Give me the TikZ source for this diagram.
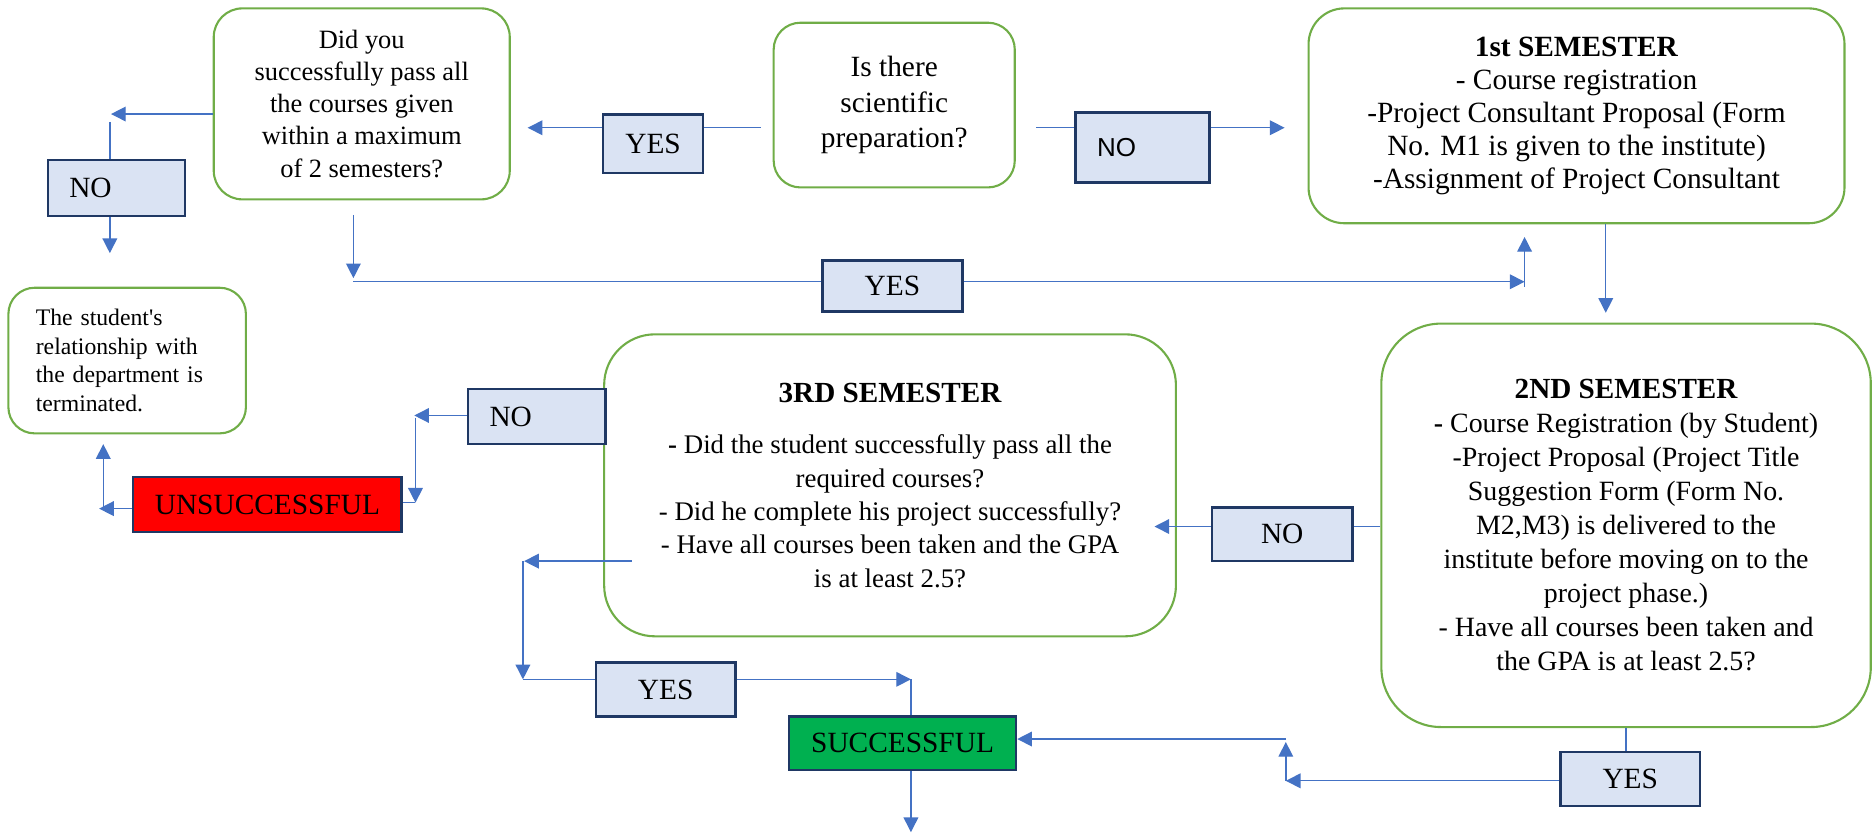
\documentclass[tikz,border=0pt]{standalone}
\usepackage{fontspec}
\setmainfont{Liberation Serif}
\newfontfamily\arialfont{Liberation Sans}
\usepackage{xcolor}
\usetikzlibrary{arrows.meta}
\definecolor{boxgreen}{HTML}{70AD47}
\definecolor{navyline}{HTML}{1F3864}
\definecolor{paleblue}{HTML}{DAE3F3}
\definecolor{wireblue}{HTML}{4472C4}
\definecolor{okgreen}{HTML}{00B050}

\begin{document}
\begin{tikzpicture}[x=0.02cm, y=-0.02cm,
  stepbox/.style={draw=boxgreen, line width=1pt, align=center, inner sep=0pt},
  tagbox/.style={draw=navyline, fill=paleblue, line width=1.2pt, inner sep=0pt, font=\fontsize{14}{16}\selectfont},
  wire/.style={draw=wireblue, line width=0.65pt},
  arr/.style={wire, -{Triangle[length=7pt,width=7pt]}}]
  \useasboundingbox (0,0) rectangle (1568,698);

  % questions and semesters
  \node[stepbox, minimum width=4.04cm, minimum height=2.76cm, rounded corners=0.45cm,
        font=\fontsize{14}{17}\selectfont] (prep) at (749,88) {Is there\\scientific\\preparation?};
  \node[stepbox, minimum width=4.96cm, minimum height=3.2cm, rounded corners=0.48cm,
        font=\fontsize{12.6}{15.3}\selectfont] (pass) at (303,87)
    {Did you\\successfully pass all\\the courses given\\within a maximum\\of 2 semesters?};
  \node[stepbox, minimum width=8.98cm, minimum height=3.6cm, rounded corners=0.6cm,
        font=\fontsize{14}{15.7}\selectfont] (sem1) at (1320.5,97)
    {\textbf{1st SEMESTER}\\- Course registration\\-Project Consultant Proposal (Form\\No. M1 is given to the institute)\\-Assignment of Project Consultant};
  \node[stepbox, align=left, text width=3.06cm, inner xsep=0.46cm, minimum height=2.44cm, rounded corners=0.44cm,
        font=\fontsize{11.3}{13.6}\selectfont] (quit) at (106.5,302)
    {The student\textquotesingle s\\relationship with\\the department is\\terminated.};
  \node[stepbox, minimum width=9.58cm, minimum height=5.06cm, rounded corners=0.85cm,
        font=\fontsize{12.8}{15.9}\selectfont] (sem3) at (745.5,406.5)
    {{\fontsize{13.9}{15.9}\selectfont\bfseries 3RD SEMESTER}\\[8.5pt]
     \textbf{-} Did the student successfully pass all the\\required courses?\\- Did he complete his project successfully?\\- Have all courses been taken and the GPA\\is at least 2.5?};
  \node[stepbox, minimum width=8.2cm, minimum height=6.76cm, rounded corners=1cm,
        font=\fontsize{13.3}{16.2}\selectfont] (sem2) at (1362,440)
    {{\fontsize{13.9}{16.2}\selectfont\bfseries 2ND SEMESTER}\\\textbf{-} Course Registration (by Student)\\-Project Proposal (Project Title\\Suggestion Form (Form No.\\M2,M3) is delivered to the\\institute before moving on to the\\project phase.)\\- Have all courses been taken and\\the GPA is at least 2.5?};

  % answer tags
  \node[tagbox, minimum width=1.68cm, minimum height=0.98cm] (yesA) at (547,120.5) {YES};
  \node[tagbox, font=\arialfont\fontsize{12.4}{14}\selectfont, align=left, text width=1.52cm, inner xsep=0.36cm,
        minimum height=1.18cm] (noA) at (957,123.5) {NO};
  \node[tagbox, align=left, text width=1.58cm, inner xsep=0.36cm, minimum height=0.94cm] (noB) at (97.5,157.5) {NO};
  \node[tagbox, minimum width=2.34cm, minimum height=0.86cm] (yesB) at (747.5,239.5) {YES};
  \node[tagbox, align=left, text width=1.58cm, inner xsep=0.36cm, minimum height=0.92cm] (noC) at (449.5,349) {NO};
  \node[tagbox, fill=red, minimum width=4.5cm, minimum height=0.92cm] (fail) at (224,422.5) {UNSUCCESSFUL};
  \node[tagbox, minimum width=2.36cm, minimum height=0.9cm] (noD) at (1074,447.5) {NO};
  \node[tagbox, minimum width=2.34cm, minimum height=0.9cm] (yesC) at (557.5,577.5) {YES};
  \node[tagbox, fill=okgreen, minimum width=3.8cm, minimum height=0.9cm] (done) at (756,622.5) {SUCCESSFUL};
  \node[tagbox, minimum width=2.34cm, minimum height=0.9cm] (yesD) at (1365.5,652.5) {YES};

  % loose ends of the connectors
  \coordinate (prepW) at (637,107);
  \coordinate (toPass) at (442,107);
  \coordinate (prepE) at (868,107);
  \coordinate (toSem1) at (1076,107);
  \coordinate (noTurn) at (93,95.5);
  \coordinate (noStart) at (92,102);
  \coordinate (quitTip) at (92,212);
  \coordinate (passS) at (296,180);
  \coordinate (yesTurn) at (296,233);
  \coordinate (yesStart) at (296,236);
  \coordinate (sem1Tip) at (1277,236);
  \coordinate (upStart) at (1277,240);
  \coordinate (upTip) at (1277,198.5);
  \coordinate (sem2Tip) at (1345,262);
  \coordinate (sem3Tip) at (967,441);
  \coordinate (sem3Out) at (529,470);
  \coordinate (leftTip) at (439,470);
  \coordinate (downStart) at (438,470);
  \coordinate (downTip) at (438,569);
  \coordinate (okTip) at (763,569);
  \coordinate (endTip) at (763,697);
  \coordinate (backTip) at (1077,654);
  \coordinate (upTip2) at (1077,621.5);
  \coordinate (okIn) at (1077,619);
  \coordinate (failTurn) at (347,348);
  \coordinate (failDown) at (348,350);
  \coordinate (failTip) at (348,421);
  \coordinate (leftEnd) at (83,426);
  \coordinate (quitUp) at (86.5,426);
  \coordinate (quitTip2) at (86.5,372);

  % top row
  \draw[wire] (prepW) -- (prepW -| yesA.east);
  \draw[arr] (prepW -| yesA.west) -- (toPass);
  \draw[wire] (prepE) -- (prepE -| noA.west);
  \draw[arr] (prepE -| noA.east) -- (toSem1);
  \draw[arr] (pass.west |- noTurn) -- (noTurn);
  \draw[wire] (noStart) -- (noStart |- noB.north);
  \draw[arr] (noB.south -| quitTip) -- (quitTip);
  \draw[arr] (passS) -- (yesTurn);
  \draw[wire] (yesStart) -- (yesB.west |- yesStart);
  \draw[arr] (yesB.east |- yesStart) -- (sem1Tip);
  \draw[arr] (upStart) -- (upTip);
  \draw[arr] (sem1.south -| sem2Tip) -- (sem2Tip);

  % second semester
  \draw[wire] (sem2.west |- sem3Tip) -- (noD.east |- sem3Tip);
  \draw[arr] (noD.west |- sem3Tip) -- (sem3Tip);
  \draw[wire] (sem2.south) -- (sem2.south |- yesD.north);
  \draw[arr] (yesD.west |- backTip) -- (backTip);
  \draw[arr] (backTip) -- (upTip2);
  \draw[arr] (okIn) -- (done.east |- okIn);

  % third semester
  \draw[arr] (sem3Out) -- (leftTip);
  \draw[arr] (downStart) -- (downTip);
  \draw[wire] (downTip) -- (yesC.west |- downTip);
  \draw[arr] (yesC.east |- okTip) -- (okTip);
  \draw[wire] (okTip) -- (okTip |- done.north);
  \draw[arr] (done.south -| endTip) -- (endTip);
  \draw[arr] (noC.west |- failTurn) -- (failTurn);
  \draw[arr] (failDown) -- (failTip);
  \draw[wire] (failTip) -- (fail.east |- failTip);
  \draw[arr] (fail.west |- leftEnd) -- (leftEnd);
  \draw[arr] (quitUp) -- (quitTip2);
\end{tikzpicture}
\end{document}
